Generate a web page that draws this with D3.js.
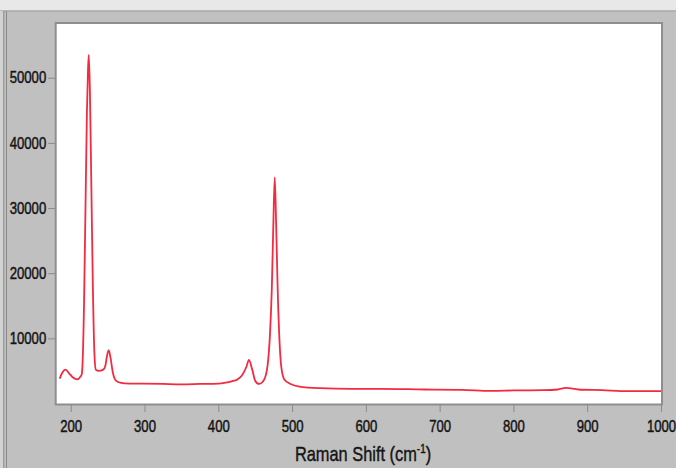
<!DOCTYPE html>
<html lang="en">
<head>
<meta charset="utf-8">
<title>Raman spectrum</title>
<script src="https://cdn.jsdelivr.net/npm/d3@7"></script>
<style>
  body { margin: 0; background: #c0c0c0; }
  svg { display: block; }
</style>
</head>
<body>
<script>
// Raman spectrum
var shift = [185, 188, 193, 198, 203, 209, 213, 215, 216, 218, 220, 222, 223.5, 224.5, 226, 228, 230, 232, 234, 238, 244,
             247, 249, 251.5, 254, 257, 260, 264, 273, 298, 325, 350, 375, 400, 410, 418, 426, 432, 438, 441.5, 446, 450,
             455, 460, 464, 467, 470, 472.5, 474.5, 476.5, 478.5, 480.5, 483, 485.5, 489.5, 498, 510, 538, 580, 620, 680, 730,
             770, 800, 840, 860, 871, 888, 920, 955, 1000];
var intensity = [3800, 4600, 5200, 4600, 4000, 3700, 4100, 4500, 6000, 15000, 30000, 45000, 51500, 53500, 48000, 33000, 18000, 8000, 5200, 5000, 5200,
             5800, 7200, 8200, 7000, 4800, 3700, 3300, 3100, 3050, 3000, 2950, 3000, 3050, 3200, 3400, 3700, 4300, 5600, 6700, 5200, 3500,
             3000, 3300, 4200, 6000, 10500, 17500, 27000, 34700, 27000, 17500, 9500, 5500, 3700, 3000, 2600, 2350, 2250, 2250, 2150, 2100,
             1950, 2000, 2050, 2150, 2400, 2150, 2050, 1900, 1900];
var xTicks = [200, 300, 400, 500, 600, 700, 800, 900, 1000];
var yTicks = [10000, 20000, 30000, 40000, 50000];

var W = 676, H = 468;
var pL = 56.7, pR = 661, pT = 24, pB = 403.5;
var squeeze = 0.82; // narrow font look

var svg = d3.select("body").append("svg").attr("width", W).attr("height", H);

// window chrome
svg.append("rect").attr("width", W).attr("height", H).attr("fill", "#c0c0c0");
svg.append("rect").attr("width", W).attr("height", 10.5).attr("fill", "#e8e8e8");
svg.append("line").attr("x1", 0).attr("x2", W).attr("y1", 11).attr("y2", 11).attr("stroke", "#9c9c9c").attr("stroke-width", 1);
svg.append("rect").attr("x", 0).attr("y", 11).attr("width", 3.5).attr("height", H).attr("fill", "#d2d2d2");
svg.append("line").attr("x1", 3.8).attr("x2", 3.8).attr("y1", 11).attr("y2", H).attr("stroke", "#8a8a8a");
svg.append("line").attr("x1", 6.5).attr("x2", 6.5).attr("y1", 11).attr("y2", H).attr("stroke", "#8a8a8a");

// plot panel
svg.append("rect").attr("x", pL - 1).attr("y", pT - 1).attr("width", pR - pL + 2).attr("height", pB - pT + 2)
   .attr("fill", "#fff").attr("stroke", "#8e8e8e").attr("stroke-width", 2);

var x = d3.scaleLinear().domain([181, 1000]).range([pL, pR]);
var y = d3.scaleLinear().domain([0, 58250]).range([pB, pT]);

var font = "'Liberation Sans', Arial, sans-serif";

var xAxis = svg.append("g").attr("transform", "translate(0," + (pB + 1.5) + ")")
   .call(d3.axisBottom(x).tickValues(xTicks).tickSize(7).tickPadding(6).tickFormat(d3.format("d")));
var yAxis = svg.append("g").attr("transform", "translate(" + (pL - 1.5) + ",0)")
   .call(d3.axisLeft(y).tickValues(yTicks).tickSize(7).tickPadding(2).tickFormat(d3.format("d")));

[xAxis, yAxis].forEach(function(g) {
  g.select(".domain").remove();
  g.selectAll(".tick line").attr("stroke", "#8a8a8a");
  g.selectAll(".tick text").attr("font-family", font).attr("font-size", 16).attr("fill", "#141414")
   .attr("stroke", "#141414").attr("stroke-width", 0.45)
   .attr("transform", "scale(" + squeeze + ",1)");
});
xAxis.selectAll(".tick text").attr("dy", "0.9em");
yAxis.selectAll(".tick text").attr("x", -9 / squeeze);

// spectrum
var pts = shift.map(function(s, i) { return [s, intensity[i]]; });
var line = d3.line().x(function(d) { return x(d[0]); }).y(function(d) { return y(d[1]); }).curve(d3.curveMonotoneX);
svg.append("path").datum(pts).attr("d", line).attr("fill", "none")
   .attr("stroke", "#f42a40").attr("stroke-width", 1.8).attr("stroke-linejoin", "round");

// axis title
var title = svg.append("text").attr("text-anchor", "middle")
   .attr("transform", "translate(363,461) scale(" + squeeze + ",1)")
   .attr("font-family", font).attr("font-size", 20).attr("fill", "#141414")
   .attr("stroke", "#141414").attr("stroke-width", 0.4);
title.append("tspan").text("Raman Shift (cm");
title.append("tspan").attr("font-size", 12).attr("dy", -8).text("-1");
title.append("tspan").attr("dy", 8).text(")");
</script>
</body>
</html>
